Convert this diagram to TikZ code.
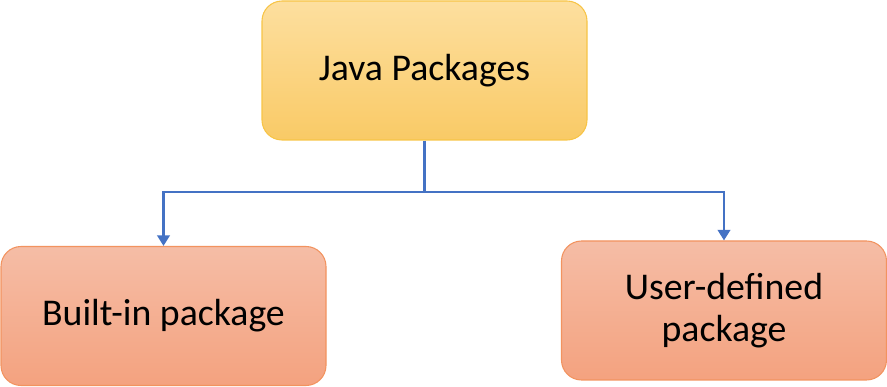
\documentclass[tikz,border=0pt]{standalone}
\usepackage{fontspec}
\setmainfont{Carlito}
\usetikzlibrary{arrows.meta}
\definecolor{pkgyellowtop}{HTML}{FDDF9F}
\definecolor{pkgyellowbot}{HTML}{F9CA66}
\definecolor{pkgyellowline}{HTML}{F7C446}
\definecolor{pkgsalmontop}{HTML}{F5BDA6}
\definecolor{pkgsalmonbot}{HTML}{F4A27F}
\definecolor{pkgsalmonline}{HTML}{F2935F}
\definecolor{linkblue}{HTML}{4472C4}
\begin{document}
\begin{tikzpicture}[
    rootbox/.style={draw=pkgyellowline, rounded corners=0.4cm, top color=pkgyellowtop, bottom color=pkgyellowbot, minimum width=6.5cm, minimum height=2.78cm, font=\fontsize{21.5}{23.5}\selectfont, align=center, line width=0.6pt},
    leafbox/.style={rootbox, draw=pkgsalmonline, top color=pkgsalmontop, bottom color=pkgsalmonbot},
    link/.style={draw=linkblue, line width=1.6pt},
    arrowlink/.style={link, -{Triangle[width=7pt,length=6pt]}}
  ]
  \useasboundingbox (0,0) rectangle (17.74,-7.74);
  % --- 上层: 总包 ---
  \node[rootbox] (java) at (8.49,-1.41) {Java Packages};
  % --- 下层: 两类包 ---
  \node[leafbox] (builtin) at (3.27,-6.32) {Built-in package};
  \node[leafbox] (userdef) at (14.48,-6.21) {User-defined\\package};
  % 分叉点
  \coordinate (split) at (8.49,-3.84);
  \draw[link] (java.south) -- (split);
  \draw[arrowlink] (split) -| (builtin.north);
  \draw[arrowlink] (split) -| (userdef.north);
\end{tikzpicture}
\end{document}
